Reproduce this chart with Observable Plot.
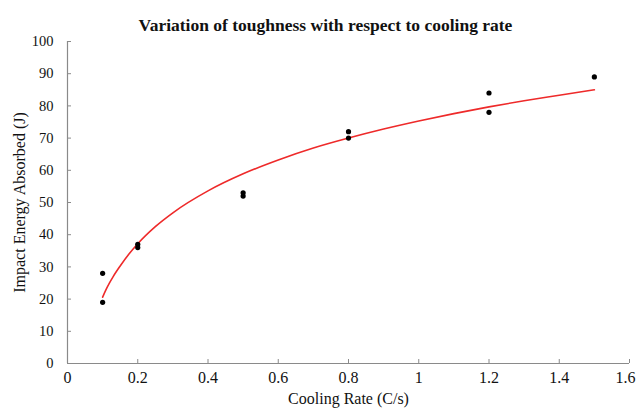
<!DOCTYPE html>
<html>
<head>
<meta charset="utf-8">
<script src="https://cdn.jsdelivr.net/npm/d3@7"></script>
<script src="https://cdn.jsdelivr.net/npm/@observablehq/plot@0.6"></script>
<style>
  html, body { margin: 0; padding: 0; background: #fff; }
  #chart svg { display: block; }
</style>
</head>
<body>
<div id="chart"></div>
<script>
const title = "Variation of toughness with respect to cooling rate";
const xTitle = "Cooling Rate (C/s)";
const yTitle = "Impact Energy Absorbed (J)";

// measured points
const coolingRate = [0.1, 0.1, 0.2, 0.2, 0.5, 0.5, 0.8, 0.8, 1.2, 1.2, 1.5];
const impactEnergy = [28, 19, 37, 36, 53, 52, 72, 70, 84, 78, 89];

// logarithmic trend line
const trendX = [0.1, 0.11, 0.12, 0.13, 0.15, 0.175, 0.2, 0.25, 0.3, 0.4, 0.5, 0.6, 0.7, 0.8, 0.9, 1.0, 1.1, 1.2, 1.3, 1.4, 1.5];
const trendY = [20.6, 23.0, 25.1, 27.0, 30.3, 34.0, 37.2, 42.5, 46.8, 53.6, 58.9, 63.2, 66.9, 70.0, 72.8, 75.3, 77.6, 79.7, 81.6, 83.3, 85.0];

const xTicks = [0, 0.2, 0.4, 0.6, 0.8, 1, 1.2, 1.4, 1.6];
const yTicks = [0, 10, 20, 30, 40, 50, 60, 70, 80, 90, 100];

const points = coolingRate.map((x, i) => ({x, y: impactEnergy[i]}));
const trend = trendX.map((x, i) => ({x, y: trendY[i]}));

const axisColor = "#8a8a8a";
const font = "'Liberation Serif', 'Times New Roman', serif";
const lastX = xTicks[xTicks.length - 1];

const chart = Plot.plot({
  width: 636,
  height: 410,
  marginLeft: 67,
  marginRight: 7,
  marginTop: 41,
  marginBottom: 47,
  style: {fontFamily: font, color: "#111", background: "#fff"},
  x: {domain: [0, 1.6]},
  y: {domain: [0, 100]},
  marks: [
    Plot.ruleX([0], {stroke: axisColor, strokeWidth: 1.2}),
    Plot.ruleY([0], {stroke: axisColor, strokeWidth: 1.2}),
    Plot.axisX({ticks: xTicks, tickFormat: () => "", tickSize: 4, dy: -4,
                stroke: axisColor, label: null}),
    Plot.text(xTicks.filter(d => d !== lastX), {x: d => d, text: d => String(d), frameAnchor: "bottom",
                dy: 19, fontSize: 16, fill: "#111"}),
    Plot.text(xTicks.filter(d => d === lastX), {x: d => d, text: d => String(d), frameAnchor: "bottom",
                dy: 19, dx: 6, textAnchor: "end", fontSize: 16, fill: "#111"}),
    Plot.axisY({ticks: yTicks, tickFormat: d => String(d), tickSize: 4, dx: 4, tickPadding: 14,
                stroke: axisColor, fontSize: 14.5, fill: "#111", label: null}),
    Plot.line(trend, {x: "x", y: "y", stroke: "#ee2a2a", strokeWidth: 1.6, curve: "monotone-x"}),
    Plot.dot(points, {x: "x", y: "y", r: 2.6, fill: "#000", stroke: "none"}),
    Plot.text([title], {frameAnchor: "top", dy: -23, dx: -23, fontSize: 17.5, fontWeight: "bold", fill: "#111"}),
    Plot.text([xTitle], {frameAnchor: "bottom", dy: 40, fontSize: 16, fill: "#111"}),
    Plot.text([yTitle], {frameAnchor: "left", textAnchor: "middle", dx: -48, rotate: -90, fontSize: 16, fill: "#111"})
  ]
});

document.getElementById("chart").appendChild(chart);
</script>
</body>
</html>
